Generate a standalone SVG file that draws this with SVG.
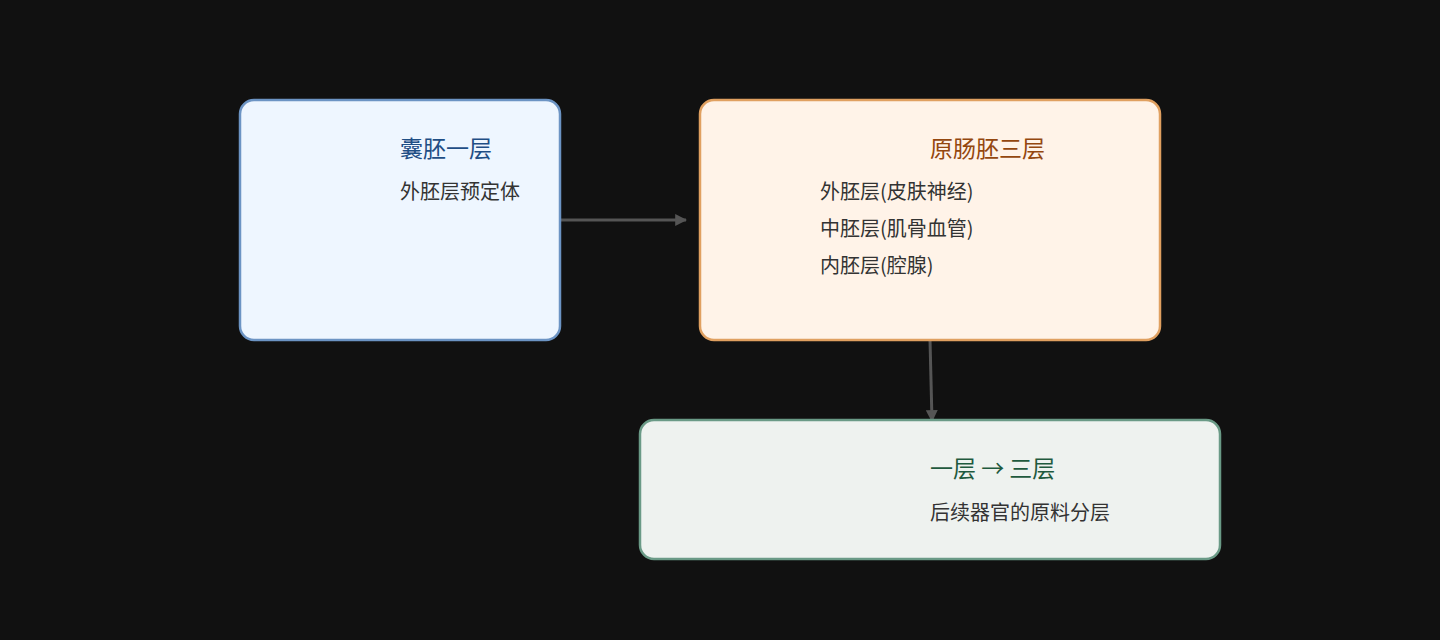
<svg xmlns="http://www.w3.org/2000/svg" width="1440" height="640" viewBox="0 0 1440 640">
<style>
.t{font-family:"Noto Sans CJK SC","Noto Sans",sans-serif;font-size:23px}
.b{font-family:"Noto Sans CJK SC","Noto Sans",sans-serif;font-size:20px;fill:#333}
.c{stroke:#555;stroke-width:3;fill:none}
</style>
<defs><marker id="a" viewBox="0 0 10 10" refX="9" refY="5" markerWidth="4" markerHeight="4" orient="auto"><path d="M0,0L10,5L0,10z" fill="#555"/></marker></defs>
<rect width="1440" height="640" fill="#111"/>
<g id="connectors">
<line class="c" x1="561" y1="220" x2="686" y2="220" marker-end="url(#a)"/>
<line class="c" x1="930" y1="340" x2="932" y2="421" marker-end="url(#a)"/>
</g>
<g id="n1"><rect x="240" y="100" width="320" height="240" rx="14" fill="#eef6ff" stroke="#6c94c4" stroke-width="2.5"/>
<text class="t" x="400" y="157" fill="#1f4e85">囊胚一层</text>
<text class="b" x="400" y="199">外胚层预定体</text></g>
<g id="n2"><rect x="700" y="100" width="460" height="240" rx="14" fill="#fff3e8" stroke="#e0a060" stroke-width="2.5"/>
<text class="t" x="930" y="157" fill="#94470f">原肠胚三层</text>
<text class="b" x="820" y="199">外胚层(皮肤神经)</text>
<text class="b" x="820" y="236">中胚层(肌骨血管)</text>
<text class="b" x="820" y="273">内胚层(腔腺)</text></g>
<g id="n3"><rect x="640" y="420" width="580" height="139" rx="14" fill="#eef2ef" stroke="#6a9a86" stroke-width="2.5"/>
<text class="t" x="930" y="477" fill="#1f5a3e">一层 → 三层</text>
<text class="b" x="930" y="520">后续器官的原料分层</text></g>
</svg>
